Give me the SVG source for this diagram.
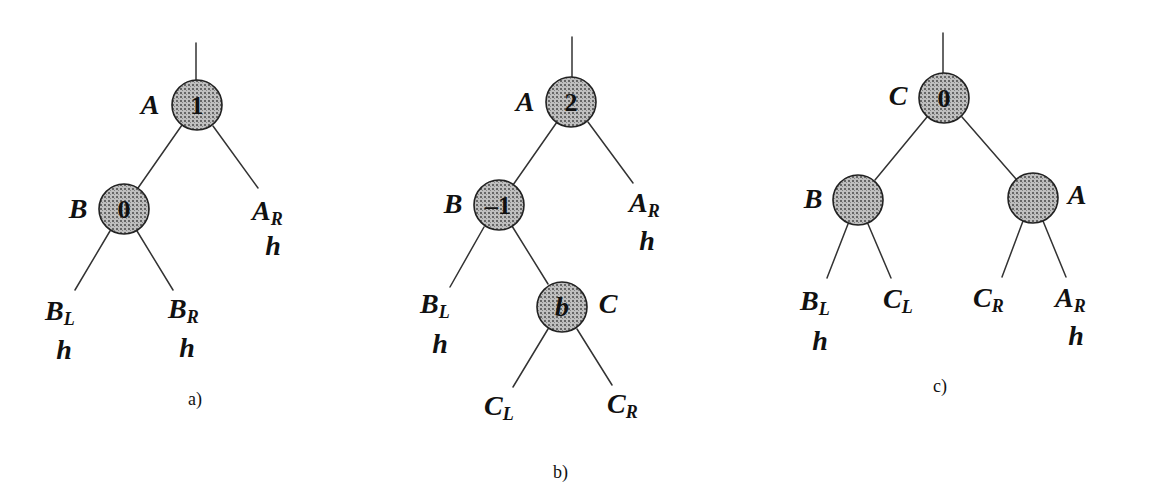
<svg xmlns="http://www.w3.org/2000/svg" width="1152" height="498" viewBox="0 0 1152 498">
<style>
.edge{stroke:#333;stroke-width:1.5;fill:none;stroke-linecap:round}
.node{fill:url(#hatch);stroke:#222;stroke-width:1.6}
.lbl{font-family:"Liberation Serif",serif;font-style:italic;font-weight:bold;font-size:28px;fill:#111}
.num{font-family:"Liberation Serif",serif;font-weight:bold;font-size:26px;fill:#111;text-anchor:middle}
.sub{font-size:18px}
.cap{font-family:"Liberation Serif",serif;font-size:18px;fill:#111}
.mid{text-anchor:middle}
</style>
<defs>
<pattern id="hatch" width="4" height="4" patternUnits="userSpaceOnUse">
<rect width="4" height="4" fill="#bfbfbf"/>
<rect width="2" height="2" fill="#666"/>
<rect x="2" y="2" width="1" height="1" fill="#858585"/>
</pattern>
</defs>
<rect width="1152" height="498" fill="#fff"/>

<g id="connectors">
<!-- a -->
<line class="edge" x1="196" y1="43" x2="196" y2="80"/>
<line class="edge" x1="182" y1="125" x2="138" y2="188"/>
<line class="edge" x1="213" y1="126" x2="258" y2="188"/>
<line class="edge" x1="110" y1="231" x2="75" y2="290"/>
<line class="edge" x1="137" y1="231" x2="173" y2="290"/>
<!-- b -->
<line class="edge" x1="572" y1="37" x2="572" y2="77"/>
<line class="edge" x1="557" y1="122" x2="513" y2="185"/>
<line class="edge" x1="588" y1="122" x2="633" y2="183"/>
<line class="edge" x1="484" y1="227" x2="450" y2="287"/>
<line class="edge" x1="512" y1="226" x2="548" y2="284"/>
<line class="edge" x1="548" y1="329" x2="513" y2="387"/>
<line class="edge" x1="577" y1="329" x2="612" y2="385"/>
<!-- c -->
<line class="edge" x1="943" y1="33" x2="943" y2="73"/>
<line class="edge" x1="927" y1="117" x2="875" y2="180"/>
<line class="edge" x1="962" y1="117" x2="1016" y2="179"/>
<line class="edge" x1="848" y1="224" x2="827" y2="278"/>
<line class="edge" x1="868" y1="224" x2="891" y2="278"/>
<line class="edge" x1="1023" y1="221" x2="1002" y2="277"/>
<line class="edge" x1="1043" y1="221" x2="1066" y2="277"/>
</g>

<!-- Panel a -->
<g id="a-A">
<circle class="node" cx="197" cy="105" r="25"/>
<text class="lbl mid" x="150" y="114">A</text>
<text class="num" x="197" y="114">1</text>
</g>
<g id="a-B">
<circle class="node" cx="124" cy="209" r="25"/>
<text class="lbl mid" x="78" y="218">B</text>
<text class="num" x="124" y="218">0</text>
</g>
<g id="a-AR">
<text class="lbl" x="252" y="220">A<tspan class="sub" dy="5">R</tspan></text>
<text class="lbl mid" x="273" y="255">h</text>
</g>
<g id="a-BL">
<text class="lbl" x="45" y="320">B<tspan class="sub" dy="5">L</tspan></text>
<text class="lbl mid" x="64" y="359">h</text>
</g>
<g id="a-BR">
<text class="lbl" x="168" y="318">B<tspan class="sub" dy="5">R</tspan></text>
<text class="lbl mid" x="187" y="357">h</text>
</g>
<text class="cap" x="188" y="405">a)</text>

<!-- Panel b -->
<g id="b-A">
<circle class="node" cx="571" cy="102" r="25"/>
<text class="lbl mid" x="525" y="111">A</text>
<text class="num" x="571" y="111">2</text>
</g>
<g id="b-B">
<circle class="node" cx="499" cy="205" r="25"/>
<text class="lbl mid" x="453" y="213">B</text>
<text class="num" x="498" y="214">–1</text>
</g>
<g id="b-C">
<circle class="node" cx="562" cy="307" r="25"/>
<text class="lbl mid" x="608" y="313">C</text>
<text class="lbl mid" x="562" y="316">b</text>
</g>
<g id="b-AR">
<text class="lbl" x="629" y="212">A<tspan class="sub" dy="5">R</tspan></text>
<text class="lbl mid" x="647" y="250">h</text>
</g>
<g id="b-BL">
<text class="lbl" x="420" y="313">B<tspan class="sub" dy="5">L</tspan></text>
<text class="lbl mid" x="440" y="353">h</text>
</g>
<g id="b-CL">
<text class="lbl" x="484" y="415">C<tspan class="sub" dy="5">L</tspan></text>
</g>
<g id="b-CR">
<text class="lbl" x="607" y="413">C<tspan class="sub" dy="5">R</tspan></text>
</g>
<text class="cap" x="553" y="478">b)</text>

<!-- Panel c -->
<g id="c-C">
<circle class="node" cx="944" cy="98" r="25"/>
<text class="lbl mid" x="898" y="105">C</text>
<text class="num" x="944" y="107">0</text>
</g>
<g id="c-B">
<circle class="node" cx="858" cy="200" r="25"/>
<text class="lbl mid" x="813" y="208">B</text>
</g>
<g id="c-A">
<circle class="node" cx="1033" cy="198" r="25"/>
<text class="lbl mid" x="1077" y="204">A</text>
</g>
<g id="c-BL">
<text class="lbl" x="800" y="310">B<tspan class="sub" dy="5">L</tspan></text>
<text class="lbl mid" x="820" y="350">h</text>
</g>
<g id="c-CL">
<text class="lbl" x="883" y="308">C<tspan class="sub" dy="5">L</tspan></text>
</g>
<g id="c-CR">
<text class="lbl" x="973" y="307">C<tspan class="sub" dy="5">R</tspan></text>
</g>
<g id="c-AR">
<text class="lbl" x="1055" y="307">A<tspan class="sub" dy="5">R</tspan></text>
<text class="lbl mid" x="1076" y="345">h</text>
</g>
<text class="cap" x="933" y="392">c)</text>
</svg>
